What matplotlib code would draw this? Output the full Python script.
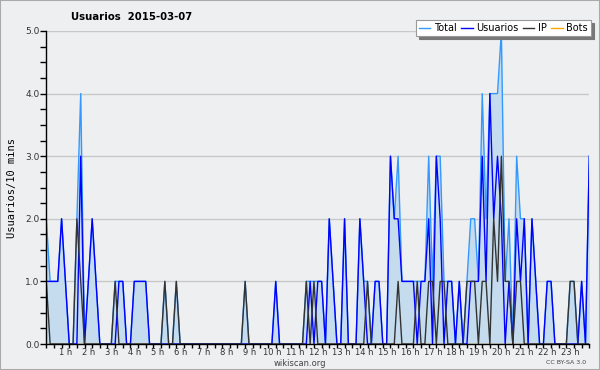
import matplotlib
matplotlib.use("Agg")
import matplotlib.pyplot as plt
import matplotlib.transforms as mtransforms
import numpy as np

# 10-minute slots, 00:00 -> 23:40
usuarios = [1, 1, 1, 1, 2, 1, 0, 0, 0, 3, 0, 1, 2, 1, 0, 0, 0, 0, 0, 1,
            1, 0, 0, 1, 1, 1, 1, 0, 0, 0, 0, 0, 0, 0, 0, 0, 0, 0, 0, 0,
            0, 0, 0, 0, 0, 0, 0, 0, 0, 0, 0, 0, 0, 0, 0, 0, 0, 0, 0, 0,
            1, 0, 0, 0, 0, 0, 0, 0, 0, 1, 0, 1, 1, 0, 2, 1, 0, 0, 2, 0,
            0, 0, 2, 1, 0, 0, 1, 1, 0, 0, 3, 2, 2, 1, 1, 1, 1, 0, 1, 1,
            2, 0, 3, 2, 0, 1, 1, 0, 1, 0, 0, 1, 1, 1, 3, 1, 4, 2, 3, 2,
            0, 1, 0, 2, 1, 2, 0, 2, 1, 0, 0, 1, 1, 0, 0, 0, 0, 0, 0, 0,
            1, 0, 3]
ip = [1, 0, 0, 0, 0, 0, 0, 0, 2, 1, 0, 0, 0, 0, 0, 0, 0, 0, 1, 0,
      0, 0, 0, 0, 0, 0, 0, 0, 0, 0, 0, 1, 0, 0, 1, 0, 0, 0, 0, 0,
      0, 0, 0, 0, 0, 0, 0, 0, 0, 0, 0, 0, 1, 0, 0, 0, 0, 0, 0, 0,
      0, 0, 0, 0, 0, 0, 0, 0, 1, 0, 1, 0, 0, 0, 0, 0, 0, 0, 0, 0,
      0, 0, 0, 0, 1, 0, 0, 0, 0, 0, 0, 0, 1, 0, 0, 0, 0, 1, 0, 0,
      1, 1, 0, 1, 1, 0, 0, 0, 0, 0, 1, 1, 1, 0, 1, 1, 0, 2, 1, 3,
      1, 1, 0, 1, 1, 0, 0, 0, 0, 0, 0, 0, 0, 0, 0, 0, 0, 1, 1, 0,
      0, 0, 0]
total = [2, 1, 1, 1, 2, 1, 0, 0, 2, 4, 0, 1, 2, 1, 0, 0, 0, 0, 1, 1,
         1, 0, 0, 1, 1, 1, 1, 0, 0, 0, 0, 1, 0, 0, 1, 0, 0, 0, 0, 0,
         0, 0, 0, 0, 0, 0, 0, 0, 0, 0, 0, 0, 1, 0, 0, 0, 0, 0, 0, 0,
         1, 0, 0, 0, 0, 0, 0, 0, 1, 1, 1, 1, 1, 0, 2, 1, 0, 0, 2, 0,
         0, 0, 2, 1, 1, 0, 1, 1, 0, 0, 3, 2, 3, 1, 1, 1, 1, 1, 1, 1,
         3, 1, 3, 3, 1, 1, 1, 0, 1, 0, 1, 2, 2, 1, 4, 2, 4, 4, 4, 5,
         1, 2, 0, 3, 2, 2, 0, 2, 1, 0, 0, 1, 1, 0, 0, 0, 0, 1, 1, 0,
         1, 0, 3]
bots = [0] * len(total)

hour_labels = [f"{h} h" for h in range(1, 24)]
title = "Usuarios  2015-03-07"

W, H = 600, 370
bg = "#eeeff0"
x = np.arange(len(total))

fig = plt.figure(figsize=(W / 100, H / 100), dpi=100, facecolor=bg)
ax = fig.add_axes([46.3 / W, 1 - 344 / H, 543 / W, 313 / H], facecolor=bg)

ax.fill_between(x, 0, total, color="#c5dcef", lw=0)
ax.plot(x, total, color="#3399ff", lw=1.0, label="Total")
ax.plot(x, usuarios, color="#0000ff", lw=1.0, label="Usuarios")
ax.plot(x, ip, color="#333333", lw=1.0, label="IP")
ax.plot(x, bots, color="#ffa500", lw=1.0, label="Bots", zorder=1)

ax.set_xlim(0, len(total) - 1)
ax.set_ylim(0, 5)

for s in ["top", "right"]:
    ax.spines[s].set_visible(False)
for s in ["left", "bottom"]:
    ax.spines[s].set_color("black")
    ax.spines[s].set_linewidth(1.0)

ax.set_yticks(np.arange(0, 5.01, 1))
ax.set_yticklabels([f"{v:.1f}" for v in range(6)], fontsize=6.5, color="#333333")
ax.set_yticks(np.arange(0, 5.01, 0.25), minor=True)
ax.tick_params(axis="y", which="both", direction="out", length=4, width=1, pad=1)
ax.grid(axis="y", which="major", color="#c8c8c8", lw=1)
ax.set_axisbelow(True)

ax.set_xticks([6 * h for h in range(1, 24)])
ax.set_xticklabels(hour_labels, fontsize=6, color="#333333")
ax.set_xticks(np.arange(0, len(total), 2), minor=True)
ax.tick_params(axis="x", which="both", direction="out", length=3, width=1, pad=0)
shift = mtransforms.ScaledTranslation(-3.5 / 100, 0, fig.dpi_scale_trans)
for lab in ax.get_xticklabels():
    lab.set_transform(lab.get_transform() + shift)

ax.set_ylabel("Usuarios/10 mins", family="DejaVu Sans Mono", fontsize=7.5, labelpad=6)

fig.text(132 / W, 1 - 17 / H, title, fontsize=7.3, fontweight="bold", ha="center", va="center")
fig.text(300 / W, 1 - 363 / H, "wikiscan.org", fontsize=6, color="#444444", ha="center", va="center")
fig.text(566 / W, 1 - 362 / H, "CC BY-SA 3.0", fontsize=4.5, color="#444444", ha="center", va="center")

leg = ax.legend(loc="upper right", bbox_to_anchor=(591 / W, 1 - 20 / H), bbox_transform=fig.transFigure,
                ncol=4, fontsize=7, frameon=True, fancybox=False, shadow={"color": "#777777", "alpha": 1},
                handlelength=1.2, handletextpad=0.4, columnspacing=0.4, borderpad=0.3, borderaxespad=0)
leg.get_frame().set_edgecolor("#999999")
leg.get_frame().set_linewidth(0.8)

fig.patches.append(plt.Rectangle((0, 0), 1, 1, transform=fig.transFigure, fill=False,
                                 edgecolor="#aaaaaa", lw=1.5))

fig.savefig("out.png", dpi=100, facecolor=bg)
